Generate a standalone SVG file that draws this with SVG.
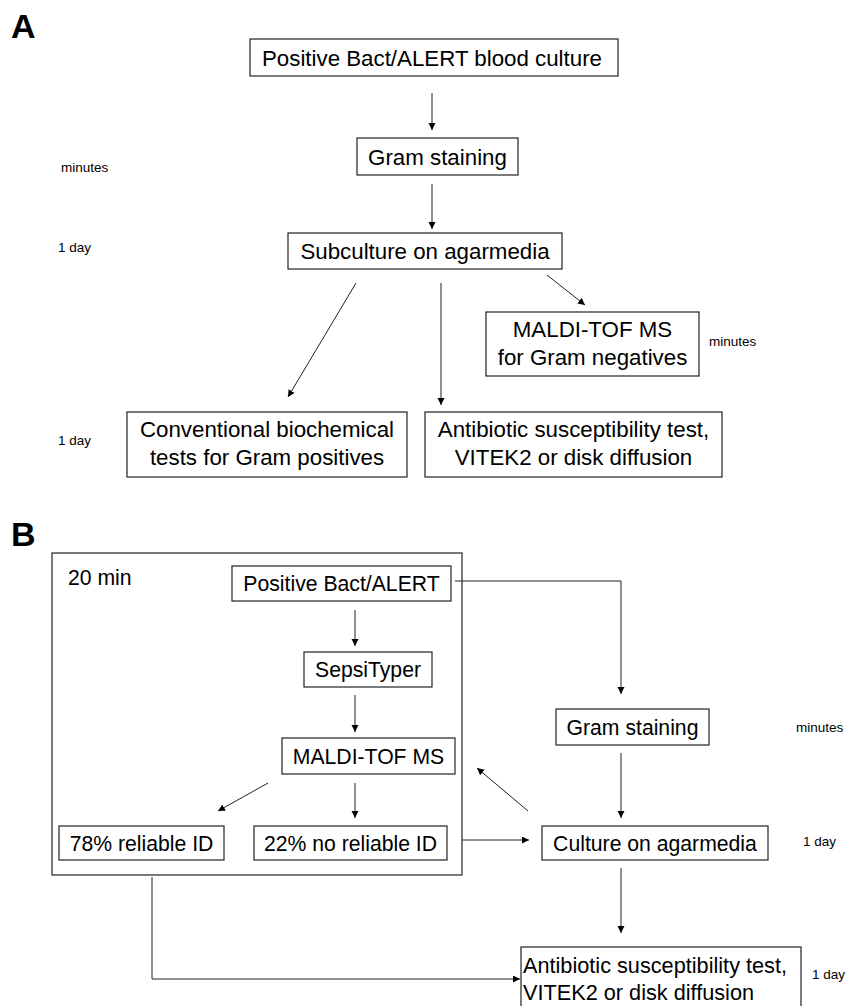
<svg xmlns="http://www.w3.org/2000/svg" width="859" height="1006" viewBox="0 0 859 1006">
<style>
.box{fill:#fff;stroke:#222;stroke-width:1.2}
.frame{fill:none;stroke:#222;stroke-width:1.2}
.t{font-family:"Liberation Sans",Arial,sans-serif;fill:#000}
.ta{font-size:22.3px}
.tb{font-size:21.2px}
.tc{font-size:21.7px}
.small{font-size:13.5px}
.big{font-size:34px;font-weight:bold}
.c{text-anchor:middle}
.conn{fill:none;stroke:#222;stroke-width:1}
</style>
<defs>
<marker id="ah" markerUnits="userSpaceOnUse" markerWidth="8" markerHeight="8" refX="7" refY="3.5" orient="auto">
<path d="M0,0 L7,3.5 L0,7 z" fill="#000"/>
</marker>
</defs>
<rect width="859" height="1006" fill="#fff"/>
<text class="t big" x="11" y="38">A</text>
<text class="t big" x="11" y="546">B</text>
<text class="t small" x="61" y="172">minutes</text>
<text class="t small" x="58" y="252">1 day</text>
<text class="t small" x="709" y="346">minutes</text>
<text class="t small" x="58" y="445">1 day</text>
<text class="t tb" x="68" y="585">20 min</text>
<text class="t small" x="796" y="732">minutes</text>
<text class="t small" x="803" y="846">1 day</text>
<text class="t small" x="812" y="979">1 day</text>
<g id="frameB"><rect class="frame" x="52" y="553" width="410" height="322"/></g>
<g id="a1"><rect class="box" x="250" y="39" width="368" height="37"/><text class="t ta c" x="432" y="65.5">Positive Bact/ALERT blood culture</text></g>
<g id="a2"><rect class="box" x="357" y="138" width="161" height="37"/><text class="t ta c" x="437.5" y="164.5">Gram staining</text></g>
<g id="a3"><rect class="box" x="288" y="233" width="274" height="36"/><text class="t ta c" x="425" y="259">Subculture on agarmedia</text></g>
<g id="a4"><rect class="box" x="486" y="312" width="213" height="64"/><text class="t ta c" x="592.5" y="337">MALDI-TOF MS</text><text class="t ta c" x="592.5" y="365">for Gram negatives</text></g>
<g id="a5"><rect class="box" x="127" y="412" width="280" height="65"/><text class="t ta c" x="267" y="437">Conventional biochemical</text><text class="t ta c" x="267" y="465">tests for Gram positives</text></g>
<g id="a6"><rect class="box" x="425" y="412" width="297" height="65"/><text class="t ta c" x="573.5" y="437">Antibiotic susceptibility test,</text><text class="t ta c" x="573.5" y="465">VITEK2 or disk diffusion</text></g>
<g id="b1"><rect class="box" x="232" y="566" width="219" height="35"/><text class="t tb c" x="341.5" y="591">Positive Bact/ALERT</text></g>
<g id="b2"><rect class="box" x="304" y="652" width="128" height="35"/><text class="t tb c" x="368" y="677">SepsiTyper</text></g>
<g id="b3"><rect class="box" x="282" y="738" width="173" height="36"/><text class="t tb c" x="368.5" y="763.5">MALDI-TOF MS</text></g>
<g id="b4"><rect class="box" x="59" y="826" width="165" height="34"/><text class="t tb c" x="141.5" y="851">78% reliable ID</text></g>
<g id="b5"><rect class="box" x="254" y="826" width="193" height="34"/><text class="t tb c" x="350.5" y="851">22% no reliable ID</text></g>
<g id="b6"><rect class="box" x="556" y="709" width="153" height="36"/><text class="t tb c" x="632.5" y="734.5">Gram staining</text></g>
<g id="b7"><rect class="box" x="542" y="826" width="226" height="34"/><text class="t tb c" x="655" y="851">Culture on agarmedia</text></g>
<g id="b8"><rect class="box" x="521" y="947" width="280" height="70"/><text class="t tc" x="523" y="973">Antibiotic susceptibility test,</text><text class="t tc" x="523" y="1000">VITEK2 or disk diffusion</text></g>
<g id="connectors">
<path class="conn" d="M432,93 V130" marker-end="url(#ah)"/>
<path class="conn" d="M432,184 V229" marker-end="url(#ah)"/>
<path class="conn" d="M356,283 L288,397" marker-end="url(#ah)"/>
<path class="conn" d="M441,283 V405" marker-end="url(#ah)"/>
<path class="conn" d="M547,275 L585,305" marker-end="url(#ah)"/>
<path class="conn" d="M455,581 H621 V694" marker-end="url(#ah)"/>
<path class="conn" d="M355,610 V646" marker-end="url(#ah)"/>
<path class="conn" d="M355,695 V732" marker-end="url(#ah)"/>
<path class="conn" d="M268,783 L218,811" marker-end="url(#ah)"/>
<path class="conn" d="M355,783 V818" marker-end="url(#ah)"/>
<path class="conn" d="M528,811 L477,768" marker-end="url(#ah)"/>
<path class="conn" d="M621,753 V818" marker-end="url(#ah)"/>
<path class="conn" d="M462,840 H529" marker-end="url(#ah)"/>
<path class="conn" d="M621,868 V933" marker-end="url(#ah)"/>
<path class="conn" d="M152,877 V979 H520" marker-end="url(#ah)"/>
</g>
</svg>
